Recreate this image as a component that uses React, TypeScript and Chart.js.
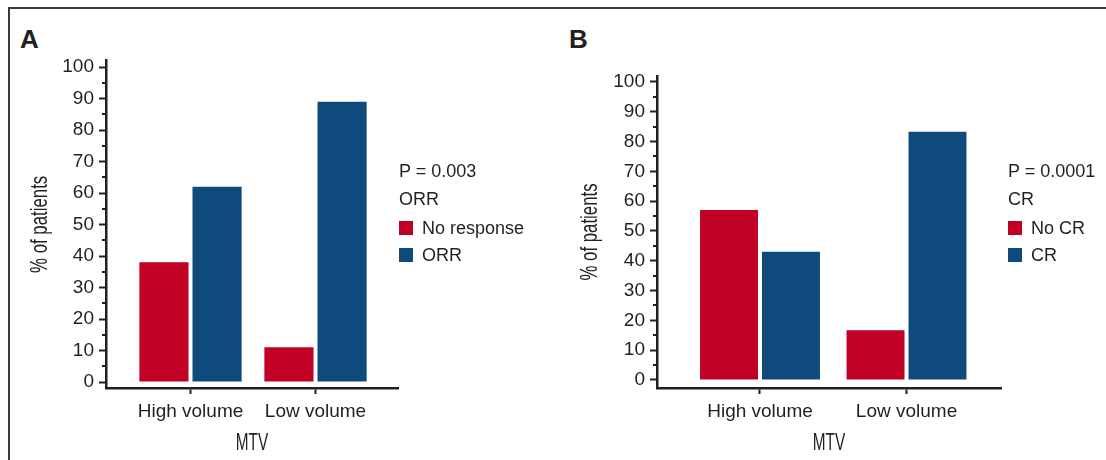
import React, { useEffect, useRef } from "react";
import { Chart, registerables } from "chart.js";

Chart.register(...registerables);

// ---------- data ----------
const CATEGORIES = ["High volume", "Low volume"];

const A_NO_RESPONSE = [38, 11];
const A_ORR = [62, 89];
const A_PVALUE = "P = 0.003";
const A_LEGEND_TITLE = "ORR";
const A_LABELS = ["No response", "ORR"];

const B_NO_CR = [57, 16.7];
const B_CR = [43, 83.3];
const B_PVALUE = "P = 0.0001";
const B_LEGEND_TITLE = "CR";
const B_LABELS = ["No CR", "CR"];

const Y_MAJOR_TICKS = [0, 10, 20, 30, 40, 50, 60, 70, 80, 90, 100];
const Y_MINOR_TICKS = [5, 15, 25, 35, 45, 55, 65, 75, 85, 95];
const X_TITLE = "MTV";
const Y_TITLE = "% of patients";

// ---------- style ----------
const RED = "#C00025";
const BLUE = "#0E4A7C";
const INK = "#231F20";
const SANS = '"Liberation Sans", Arial, Helvetica, sans-serif';

const minorTickPlugin = {
  id: "minorTicks",
  afterDraw(chart: any) {
    const y = chart.scales.y;
    const ctx = chart.ctx;
    ctx.save();
    ctx.strokeStyle = INK;
    ctx.lineWidth = 2;
    for (const v of Y_MINOR_TICKS) {
      const py = Math.round(y.getPixelForValue(v));
      ctx.beginPath();
      ctx.moveTo(y.right - 4, py);
      ctx.lineTo(y.right, py);
      ctx.stroke();
    }
    ctx.restore();
  },
};

type PanelCfg = {
  red: number[];
  blue: number[];
  labels: string[];
  width: number;
  height: number;
  padTop: number;
  padRight: number;
  yWidth: number;
  xHeight: number;
  yMin: number;
  yMax: number;
  xMin: number;
  xMax: number;
  yTitleOffset: number;
  catPct: number;
  barPct: number;
};

function makeTitlePlugin(cfg: PanelCfg) {
  return {
    id: "condensedTitles",
    afterDraw(chart: any) {
      const { ctx, chartArea, scales } = chart;
      ctx.save();
      ctx.fillStyle = INK;
      ctx.font = `24px ${SANS}`;
      ctx.textAlign = "center";
      ctx.textBaseline = "middle";
      // x axis title (condensed)
      const cx = (chartArea.left + chartArea.right) / 2;
      ctx.save();
      ctx.translate(cx, scales.x.bottom - 17);
      ctx.scale(0.64, 1);
      ctx.fillText(X_TITLE, 0, 0);
      ctx.restore();
      // y axis title (condensed, rotated)
      const cy = (chartArea.top + chartArea.bottom) / 2;
      ctx.save();
      ctx.translate(scales.y.left + cfg.yTitleOffset, cy);
      ctx.rotate(-Math.PI / 2);
      ctx.scale(0.7, 1);
      ctx.fillText(Y_TITLE, 0, 0);
      ctx.restore();
      ctx.restore();
    },
  };
}

function Panel({ cfg, left, top }: { cfg: PanelCfg; left: number; top: number }) {
  const ref = useRef<HTMLCanvasElement>(null);
  useEffect(() => {
    if (!ref.current) return;
    const chart = new Chart(ref.current, {
      type: "bar",
      data: {
        datasets: [
          {
            label: cfg.labels[0],
            data: cfg.red.map((v, i) => ({ x: i, y: v })),
            backgroundColor: RED,
            categoryPercentage: cfg.catPct,
            barPercentage: cfg.barPct,
          },
          {
            label: cfg.labels[1],
            data: cfg.blue.map((v, i) => ({ x: i, y: v })),
            backgroundColor: BLUE,
            categoryPercentage: cfg.catPct,
            barPercentage: cfg.barPct,
          },
        ],
      },
      options: {
        responsive: false,
        animation: false,
        layout: { padding: { left: 0, top: cfg.padTop, right: cfg.padRight, bottom: 0 } },
        plugins: { legend: { display: false }, tooltip: { enabled: false } },
        scales: {
          x: {
            type: "linear",
            offset: false,
            min: cfg.xMin,
            max: cfg.xMax,
            afterBuildTicks: (scale: any) => {
              scale.ticks = CATEGORIES.map((_, i) => ({ value: i }));
            },
            afterFit: (scale: any) => {
              scale.height = cfg.xHeight;
            },
            ticks: {
              callback: (_v: any, i: number) => CATEGORIES[i],
              color: INK,
              font: { family: SANS, size: 19 },
              padding: 6,
              maxRotation: 0,
              autoSkip: false,
            },
            grid: {
              offset: false,
              drawOnChartArea: false,
              drawTicks: true,
              tickLength: 6,
              tickWidth: 2,
              tickColor: INK,
            },
            border: { display: true, color: INK, width: 2.5 },
            title: { display: false },
          },
          y: {
            type: "linear",
            min: cfg.yMin,
            max: cfg.yMax,
            afterBuildTicks: (scale: any) => {
              scale.ticks = Y_MAJOR_TICKS.map((v) => ({ value: v }));
            },
            afterFit: (scale: any) => {
              scale.width = cfg.yWidth;
            },
            ticks: {
              color: INK,
              font: { family: SANS, size: 19 },
              padding: 5,
              autoSkip: false,
            },
            grid: {
              drawOnChartArea: false,
              drawTicks: true,
              tickLength: 7,
              tickWidth: 2,
              tickColor: INK,
            },
            border: { display: true, color: INK, width: 2.5 },
            title: { display: false },
          },
        },
      },
      plugins: [minorTickPlugin, makeTitlePlugin(cfg)],
    } as any);
    return () => chart.destroy();
  }, [cfg]);
  return (
    <canvas
      ref={ref}
      width={cfg.width}
      height={cfg.height}
      style={{ position: "absolute", left, top, width: cfg.width, height: cfg.height }}
    />
  );
}

const PANEL_A: PanelCfg = {
  red: A_NO_RESPONSE,
  blue: A_ORR,
  labels: A_LABELS,
  width: 540,
  height: 450,
  padTop: 50.7,
  padRight: 152,
  yWidth: 96,
  xHeight: 72,
  yMin: -1.9,
  yMax: 102,
  xMin: -0.676,
  xMax: 1.66,
  yTitleOffset: 30,
  catPct: 0.85,
  barPct: 0.925,
};

const PANEL_B: PanelCfg = {
  red: B_NO_CR,
  blue: B_CR,
  labels: B_LABELS,
  width: 556,
  height: 450,
  padTop: 66,
  padRight: 105,
  yWidth: 107,
  xHeight: 72,
  yMin: -2.7,
  yMax: 102,
  xMin: -0.703,
  xMax: 1.645,
  yTitleOffset: 40,
  catPct: 0.846,
  barPct: 0.935,
};

function Legend({ x, pText, title, labels }: { x: number; pText: string; title: string; labels: string[] }) {
  const text: React.CSSProperties = {
    position: "absolute",
    fontFamily: SANS,
    fontSize: 18,
    lineHeight: "20px",
    color: INK,
    whiteSpace: "nowrap",
  };
  const box: React.CSSProperties = { position: "absolute", width: 14, height: 14 };
  return (
    <>
      <div style={{ ...text, left: x, top: 161 }}>{pText}</div>
      <div style={{ ...text, left: x, top: 189 }}>{title}</div>
      <div style={{ ...box, left: x, top: 221, background: RED }} />
      <div style={{ ...text, left: x + 23, top: 218 }}>{labels[0]}</div>
      <div style={{ ...box, left: x, top: 248, background: BLUE }} />
      <div style={{ ...text, left: x + 23, top: 245 }}>{labels[1]}</div>
    </>
  );
}

export default function App() {
  const letter: React.CSSProperties = {
    position: "absolute",
    fontFamily: SANS,
    fontWeight: "bold",
    fontSize: 26,
    lineHeight: "26px",
    color: INK,
  };
  return (
    <div style={{ position: "absolute", left: 0, top: 0, width: 1106, height: 460, overflow: "hidden", background: "#fff" }}>
      <div
        style={{
          position: "absolute",
          left: 8,
          top: 7,
          width: 1098,
          height: 453,
          borderTop: "2px solid #3a3a3a",
          borderLeft: "2px solid #3a3a3a",
          boxSizing: "border-box",
        }}
      />
      <div style={{ ...letter, left: 20, top: 26 }}>A</div>
      <div style={{ ...letter, left: 569, top: 26 }}>B</div>
      <Panel cfg={PANEL_A} left={10} top={10} />
      <Panel cfg={PANEL_B} left={550} top={10} />
      <Legend x={399} pText={A_PVALUE} title={A_LEGEND_TITLE} labels={A_LABELS} />
      <Legend x={1008} pText={B_PVALUE} title={B_LEGEND_TITLE} labels={B_LABELS} />
    </div>
  );
}
